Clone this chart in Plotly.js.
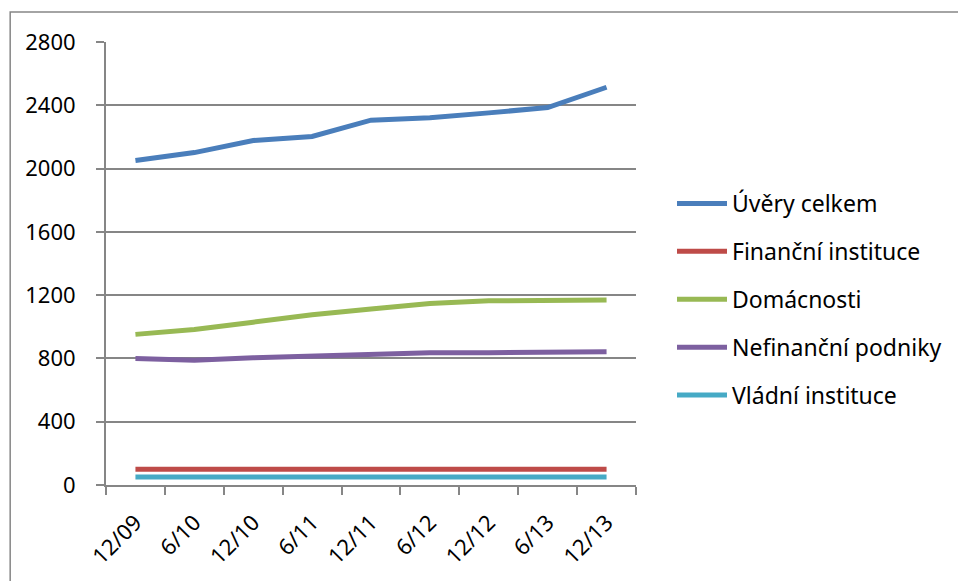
<!DOCTYPE html>
<html>
<head>
<meta charset="utf-8">
<script src="https://cdn.plot.ly/plotly-3.0.1.min.js"></script>
<style>
  html, body { margin: 0; padding: 0; background: #fff; }
  #chart { width: 958px; height: 581px; }
</style>
</head>
<body>
<div id="chart"></div>
<script>
// Období (pololetí)
const periods = ["12/09", "6/10", "12/10", "6/11", "12/11", "6/12", "12/12", "6/13", "12/13"];

// Objem úvěrů podle sektorů (mld. Kč)
const uveryCelkem      = [2051, 2101, 2177, 2203, 2306, 2321, 2352, 2386, 2514];
const financniInst     = [100, 100, 100, 100, 100, 100, 100, 100, 100];
const domacnosti       = [952, 983, 1029, 1076, 1112, 1147, 1164, 1170, 1170];
const nefinancniPodn   = [800, 789, 804, 815, 825, 836, 836, 836, 842];
const vladniInst       = [50, 50, 50, 50, 50, 50, 50, 50, 50];

const seriesNames  = ["Úvěry celkem", "Finanční instituce", "Domácnosti", "Nefinanční podniky", "Vládní instituce"];
const seriesValues = [uveryCelkem, financniInst, domacnosti, nefinancniPodn, vladniInst];
const seriesColors = ["#4A7EBB", "#BE4B48", "#98B954", "#7D60A0", "#46AAC5"];

const FONT = "Noto Sans, DejaVu Sans, sans-serif";
const GRID = "#868686";

const traces = seriesNames.map((name, i) => ({
  type: "scatter",
  mode: "lines",
  name: name,
  legendgroup: "g" + i,
  x: periods,
  y: seriesValues[i],
  line: { color: seriesColors[i], width: 5 },
  hoverinfo: "x+y+name"
}));

// Plot area: x 106..637, y 42..485 (px)
const W = 958, H = 581;
const L = 106, R = 637, T = 42, B = 485;
const pw = R - L, ph = B - T;
const px = v => (v - L) / pw;
const py = v => (B - v) / ph;

const layout = {
  width: W,
  height: H,
  margin: { l: L, r: W - R, t: T, b: H - B, pad: 0 },
  paper_bgcolor: "#ffffff",
  plot_bgcolor: "#ffffff",
  font: { family: FONT, size: 22, color: "#000000" },
  showlegend: true,
  legend: {
    x: px(672), xanchor: "left",
    y: py(182), yanchor: "top",
    traceorder: "grouped",
    tracegroupgap: 15,
    font: { family: FONT, size: 23, color: "#000000" },
    bgcolor: "rgba(0,0,0,0)",
    itemwidth: 50
  },
  xaxis: {
    type: "category",
    range: [-0.5, periods.length - 0.5],
    tickson: "boundaries",
    ticks: "outside",
    ticklen: 8,
    tickwidth: 2,
    tickcolor: GRID,
    tickangle: -45,
    ticklabelstandoff: 14,
    showline: true,
    linecolor: GRID,
    linewidth: 2,
    showgrid: false,
    zeroline: false,
    tickfont: { family: FONT, size: 22, color: "#000000" },
    fixedrange: true
  },
  yaxis: {
    range: [0, 2800],
    tick0: 0,
    dtick: 400,
    ticks: "outside",
    ticklen: 8,
    tickwidth: 2,
    tickcolor: GRID,
    showline: true,
    linecolor: GRID,
    linewidth: 2,
    showgrid: true,
    gridcolor: GRID,
    gridwidth: 2,
    zeroline: false,
    ticklabelstandoff: 16,
    tickfont: { family: FONT, size: 22, color: "#000000" },
    fixedrange: true
  },
  shapes: [
    // outer chart frame
    {
      type: "rect", xref: "paper", yref: "paper",
      x0: px(10), x1: px(1000), y0: py(640), y1: py(12),
      line: { color: "#868686", width: 1.5 },
      fillcolor: "rgba(0,0,0,0)",
      layer: "below"
    }
  ]
};

Plotly.newPlot("chart", traces, layout, { displayModeBar: false, staticPlot: true });
</script>
</body>
</html>
